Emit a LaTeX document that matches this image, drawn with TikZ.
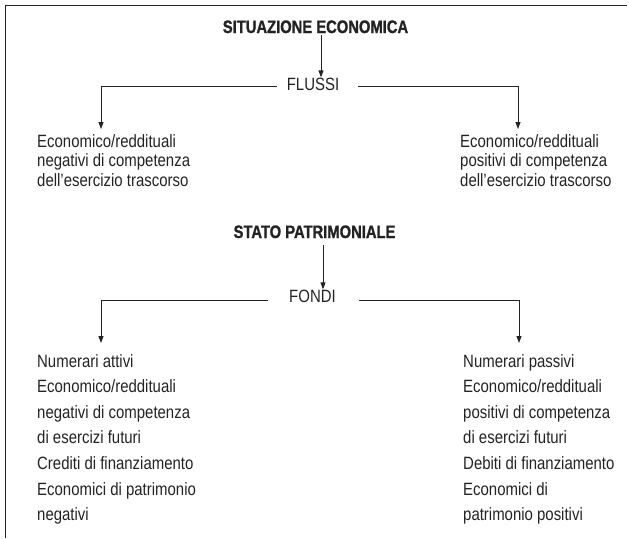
\documentclass[tikz,border=0pt]{standalone}
\usepackage{fontspec}
\setmainfont[FakeStretch=0.84]{Liberation Sans}
\newfontfamily\titlefont[FakeStretch=0.82,FakeBold=1.2]{Liberation Sans}
\usetikzlibrary{arrows.meta}
\definecolor{ink}{RGB}{35,35,35}
\tikzset{
  lbl/.style={inner sep=0pt, text=ink, font=\fontsize{17.8}{19.5}\selectfont},
  ttl/.style={inner sep=0pt, text=ink, font=\titlefont\bfseries\fontsize{18}{20}\selectfont},
  blkone/.style={inner sep=0pt, text=ink, align=left, anchor=north west, font=\fontsize{17.8}{19.6}\selectfont},
  blktwo/.style={inner sep=0pt, text=ink, align=left, anchor=north west, font=\fontsize{17.8}{25.6}\selectfont},
  conn/.style={draw=ink, line width=0.9pt},
  arr/.style={conn, -{Triangle[length=7pt,width=5pt]}},
}
\begin{document}
\begin{tikzpicture}[x=1pt,y=-1pt]
\useasboundingbox (0,0) rectangle (629,538);
% frame
\coordinate (fbl) at (5,538);
\coordinate (ftl) at (5,5);
\coordinate (ftr) at (627,5);
\draw[conn] (fbl) -- (ftl) -- (ftr);
% situazione economica
\node[ttl, anchor=base] (sit) at (315.5,33) {SITUAZIONE ECONOMICA};
\node[lbl, anchor=base] (flu) at (313,90) {FLUSSI};
\node[blkone] (fneg) at (37,134) {Economico/reddituali\\negativi di competenza\\dell’esercizio trascorso};
\node[blkone] (fpos) at (460,134) {Economico/reddituali\\positivi di competenza\\dell’esercizio trascorso};
\coordinate (fnegtip) at (101,129);
\coordinate (fpostip) at (518,129);
\draw[arr] ([xshift=5.5pt,yshift=-2pt]sit.south) -- ([xshift=8pt]flu.north);
\draw[arr] ([xshift=-10pt,yshift=-2.3pt]flu.west) -| (fnegtip);
\draw[arr] ([xshift=19pt,yshift=-2.3pt]flu.east) -| (fpostip);
% stato patrimoniale
\node[ttl, anchor=base] (sp) at (314.5,238) {STATO PATRIMONIALE};
\node[lbl, anchor=base] (fon) at (312.5,302) {FONDI};
\node[blktwo] (att) at (37,354) {Numerari attivi\\Economico/reddituali\\negativi di competenza\\di esercizi futuri\\Crediti di finanziamento\\Economici di patrimonio\\negativi};
\node[blktwo] (pas) at (463,354) {Numerari passivi\\Economico/reddituali\\positivi di competenza\\di esercizi futuri\\Debiti di finanziamento\\Economici di\\patrimonio positivi};
\coordinate (atttip) at (101,343);
\coordinate (pastip) at (519,343);
\draw[arr] ([xshift=8.5pt,yshift=-7pt]sp.south) -- ([xshift=10.5pt]fon.north);
\draw[arr] ([xshift=-21pt,yshift=-4.3pt]fon.west) -| (atttip);
\draw[arr] ([xshift=23pt,yshift=-4.3pt]fon.east) -| (pastip);
\end{tikzpicture}
\end{document}
